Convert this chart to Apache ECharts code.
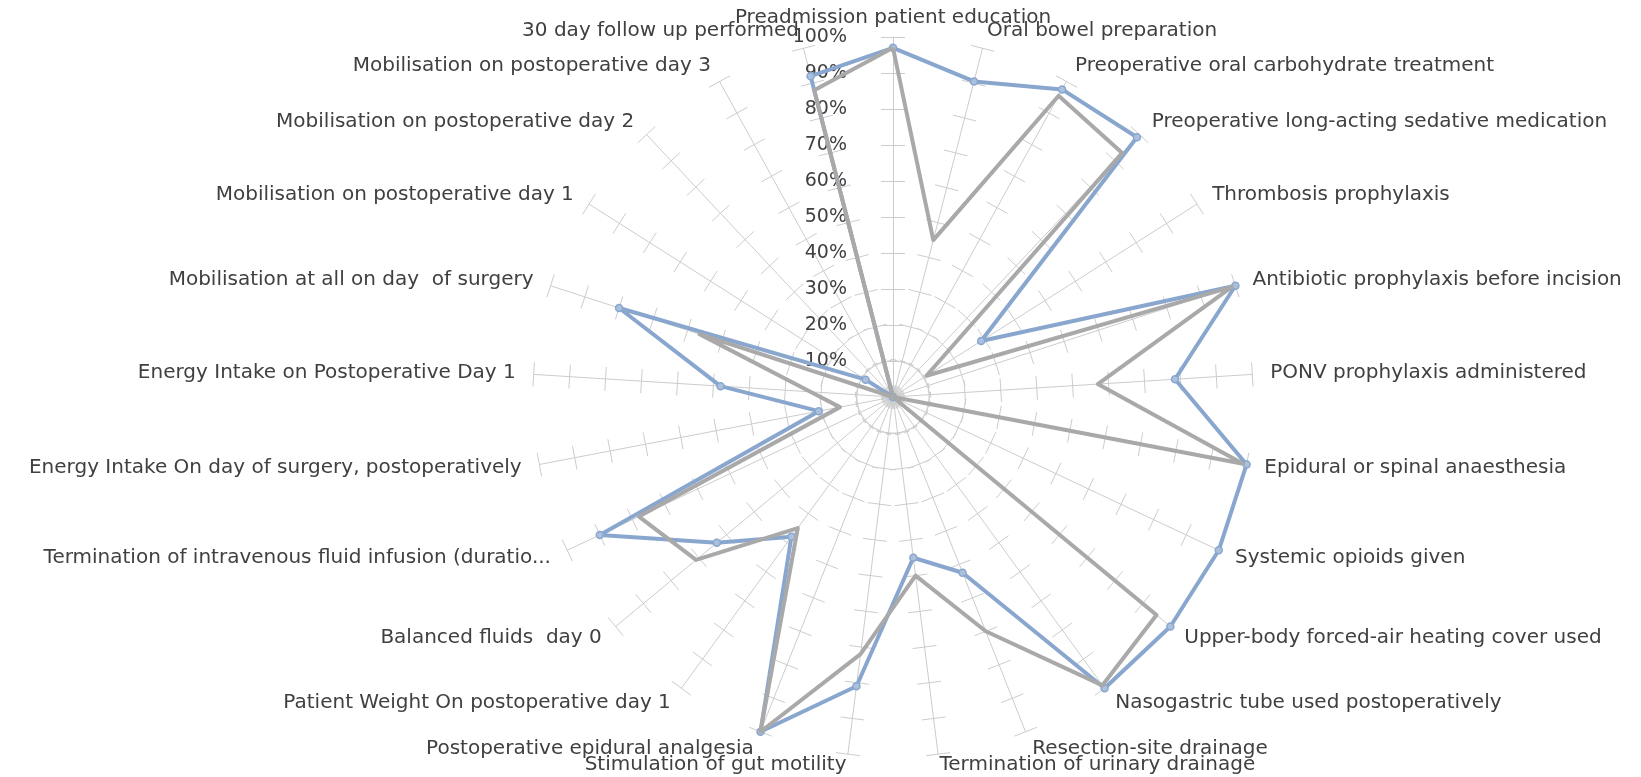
<!DOCTYPE html>
<html>
<head>
<meta charset="utf-8">
<script src="https://cdn.jsdelivr.net/npm/echarts@6/dist/echarts.min.js"></script>
<style>
html,body{margin:0;padding:0;background:#fff;}
#chart{width:1641px;height:777px;}
</style>
</head>
<body>
<div id="chart"></div>
<script>
// Categories in clockwise order starting at the top
const categories = [
  'Preadmission patient education',
  'Oral bowel preparation',
  'Preoperative oral carbohydrate treatment',
  'Preoperative long-acting sedative medication',
  'Thrombosis prophylaxis',
  'Antibiotic prophylaxis before incision',
  'PONV prophylaxis administered',
  'Epidural or spinal anaesthesia',
  'Systemic opioids given',
  'Upper-body forced-air heating cover used',
  'Nasogastric tube used postoperatively',
  'Resection-site drainage',
  'Termination of urinary drainage',
  'Stimulation of gut motility',
  'Postoperative epidural analgesia',
  'Patient Weight On postoperative day 1',
  'Balanced fluids  day 0',
  'Termination of intravenous fluid infusion (duratio...',
  'Energy Intake On day of surgery, postoperatively',
  'Energy Intake on Postoperative Day 1',
  'Mobilisation at all on day  of surgery',
  'Mobilisation on postoperative day 1',
  'Mobilisation on postoperative day 2',
  'Mobilisation on postoperative day 3',
  '30 day follow up performed'
];
const seriesBlue = [0.97, 0.905, 0.975, 0.99, 0.29, 1.0, 0.785, 1.0, 1.0, 1.0, 1.0, 0.525, 0.45, 0.81, 1.0, 0.48, 0.635, 0.90, 0.21, 0.48, 0.80, 0.09, 0, 0, 0.92];
const seriesGray = [0.97, 0.45, 0.955, 0.93, 0.11, 0.99, 0.57, 0.99, 0, 0.95, 0.99, 0.70, 0.50, 0.72, 1.0, 0.45, 0.71, 0.78, 0.15, 0.23, 0.565, 0, 0, 0, 0.88];
const axisMax = 1;
const axisSplit = 10;

// ECharts radar runs counter-clockwise; reorder to draw clockwise
const order = [0];
for (let i = categories.length - 1; i >= 1; i--) order.push(i);
const pick = arr => order.map(i => arr[i]);

const tickColor = '#cccccc';
const textColor = '#404040';
const font = 'DejaVu Sans';
const n = categories.length;

function gapFor(i) {
  if (i === 0) return 4;
  const c = Math.cos(i * 2 * Math.PI / n);
  if (c < -0.98) return 11;
  return 18;
}

const indicatorMain = order.map((i, k) => {
  const o = { name: categories[i], min: 0, max: axisMax, nameGap: gapFor(i) };
  if (k === 0) o.axisLabel = { show: true };
  return o;
});
const indicatorGhost = order.map(i => ({ name: categories[i], min: 0, max: axisMax }));

const center = [893, 397];
const radius = 360;

const chart = echarts.init(document.getElementById('chart'), null, { renderer: 'canvas' });
chart.setOption({
  animation: false,
  radar: [
    {
      center: center,
      radius: radius,
      startAngle: 90,
      splitNumber: axisSplit,
      shape: 'polygon',
      indicator: indicatorMain,
      axisName: { color: textColor, fontSize: 20, fontFamily: font },
      nameGap: 18,
      axisLine: { show: true, lineStyle: { color: tickColor, width: 1 } },
      axisTick: { show: true, length: 12, lineStyle: { color: tickColor, width: 1 } },
      axisLabel: {
        show: false, color: textColor, fontSize: 19, fontFamily: font, margin: 46,
        formatter: v => v === 0 ? '' : Math.round(v * 100) + '%'
      },
      splitLine: { show: false },
      splitArea: { show: false }
    },
    {
      center: center,
      radius: radius,
      startAngle: 90,
      splitNumber: axisSplit,
      shape: 'polygon',
      indicator: indicatorGhost,
      axisName: { show: false },
      axisLine: { show: false },
      axisTick: { show: true, length: -12, lineStyle: { color: tickColor, width: 1 } },
      axisLabel: { show: false },
      splitLine: { show: false },
      splitArea: { show: false }
    }
  ],
  series: [
    {
      type: 'radar',
      radarIndex: 0,
      z: 3,
      data: [{
        value: pick(seriesBlue),
        symbol: 'circle',
        symbolSize: 7,
        lineStyle: { color: '#89a7ce', width: 4 },
        itemStyle: { color: '#abc0dc', borderColor: '#89a7ce', borderWidth: 1.5 }
      }]
    },
    {
      type: 'radar',
      radarIndex: 0,
      z: 4,
      data: [{
        value: pick(seriesGray),
        symbol: 'none',
        lineStyle: { color: '#a9a9a9', width: 4 }
      }]
    }
  ]
});
</script>
</body>
</html>
